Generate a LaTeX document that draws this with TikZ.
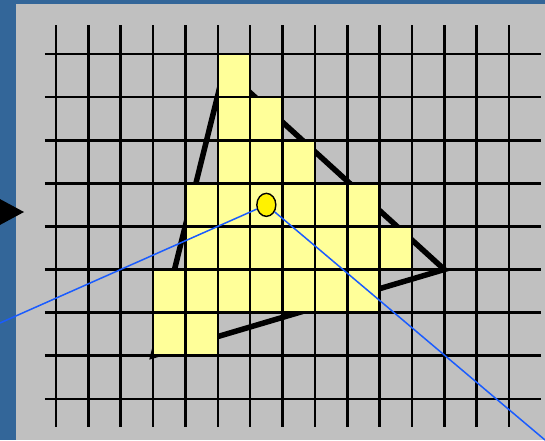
\documentclass[tikz,border=0pt]{standalone}
\usepackage{tikz}
\usetikzlibrary{shapes.geometric}
\definecolor{slide}{HTML}{336699}
\definecolor{panel}{HTML}{C0C0C0}
\definecolor{pix}{HTML}{FFFF99}
\definecolor{beam}{HTML}{1A5CFF}

\begin{document}
\begin{tikzpicture}[x=1pt, y=-1pt,
  gridline/.style={line width=2.6pt},
  tri/.style={line width=5.5pt, line join=miter},
  ray/.style={draw=beam, line width=1.5pt},
  sample/.style={ellipse, draw, line width=1.4pt, fill=yellow,
    minimum width=19pt, minimum height=23pt, inner sep=0pt}]

% slide background and panel
\fill[slide] (0,0) rectangle (545,440);
\useasboundingbox (0,0) rectangle (545,440);
\fill[panel] (16,4) rectangle (545,440);

% pixel grid, in cell units
\begin{scope}[shift={(56,54)}, x=32.36pt, y=-43.1pt]
  \draw[tri] (5.2,0.35) -- (12,5) -- (3,7) -- cycle;
  \foreach \r/\a/\b in {0/5/5, 1/5/6, 2/5/7, 3/4/9, 4/4/10, 5/3/9, 6/3/4}
    \fill[pix] (\a,\r) rectangle (\b+1,\r+1);
  \foreach \i in {0,...,14}
    \draw[gridline] (\i,-0.67) -- (\i,8.65);
  \foreach \j in {0,...,8}
    \draw[gridline] (-0.34,\j) -- (15,\j);
  \node[sample] (spot) at (6.5,3.5) {};
\end{scope}

\coordinate (rayL) at (0,323);
\coordinate (rayR) at (545,440);
\draw[ray] (spot) -- (rayL);
\draw[ray] (spot) -- (rayR);

% pointer on the left edge
\fill (-2,198) -- (24,212) -- (-2,226) -- cycle;
\end{tikzpicture}
\end{document}
